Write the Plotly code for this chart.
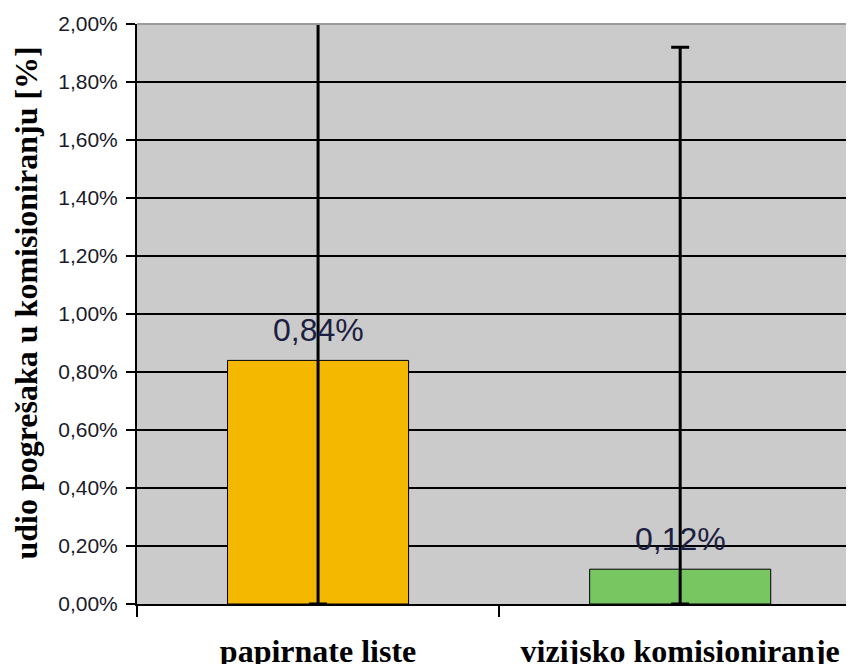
import plotly.graph_objects as go

categories = ["papirnate liste", "vizijsko komisioniranje"]
category_labels = ["<b>papirnate liste</b>", "<b>vizijsko komisioniranje</b>"]
values = [0.84, 0.12]            # % errors
err_plus = [1.25, 1.80]          # upper error (%)
err_minus = [0.84, 0.12]         # lower error (%)
labels = ["0,84%", "0,12%"]
colors = ["#F4B800", "#78C662"]
y_ticks = [0.0, 0.2, 0.4, 0.6, 0.8, 1.0, 1.2, 1.4, 1.6, 1.8, 2.0]
y_tick_labels = ["0,00%", "0,20%", "0,40%", "0,60%", "0,80%", "1,00%",
                 "1,20%", "1,40%", "1,60%", "1,80%", "2,00%"]
y_title = "<b>udio pogrešaka u komisioniranju [%]</b>"

# page body has an 8px default margin; compensate so the plot lands where the reference has it
W, H = 846, 656
ML, MT, MB = 129, 16, 60
PW = W - ML

fig = go.Figure()
fig.add_trace(go.Bar(
    x=categories, y=values, width=0.5,
    marker=dict(color=colors, line=dict(color="black", width=1)),
    cliponaxis=True,
    error_y=dict(type="data", symmetric=False, array=err_plus, arrayminus=err_minus,
                 color="black", thickness=3, width=9),
))

for c, v, t in zip(categories, values, labels):
    fig.add_annotation(x=c, y=v, text=t, showarrow=False, yanchor="bottom", yshift=10,
                       font=dict(family="Liberation Sans, Arial", size=32, color="#1c2040"))

fig.update_layout(
    width=W, height=H,
    margin=dict(l=ML, r=0, t=MT, b=MB, autoexpand=False),
    paper_bgcolor="white", plot_bgcolor="#CBCBCB",
    showlegend=False,
    font=dict(family="Liberation Sans, Arial", color="black"),
)
fig.update_yaxes(
    range=[0, 2.0], tickvals=y_ticks, ticktext=y_tick_labels, automargin=False,
    tickfont=dict(family="Liberation Sans, Arial", size=21, color="#1a1a2a"),
    showgrid=True, gridcolor="black", gridwidth=1.5,
    showline=True, linecolor="black", linewidth=2,
    ticks="outside", ticklen=9, tickcolor="black", tickwidth=2,
    zeroline=False, ticklabelstandoff=4,
)
fig.update_xaxes(
    range=[-0.5, 1.48], automargin=False,
    tickvals=categories, ticktext=category_labels,
    showline=True, linecolor="black", linewidth=2,
    ticks="outside", tickson="boundaries", ticklen=11, tickcolor="black", tickwidth=2,
    tickfont=dict(family="Liberation Serif, Times New Roman", size=32, color="black"),
    ticklabelstandoff=18,
)
fig.add_annotation(xref="paper", yref="paper", x=(18 - ML) / PW, y=0.518,
                   text=y_title, textangle=-90, showarrow=False,
                   xanchor="center", yanchor="middle",
                   font=dict(family="Liberation Serif, Times New Roman", size=32, color="black"))
fig.add_shape(type="line", xref="paper", yref="paper", x0=0, x1=1, y0=1, y1=1,
              line=dict(color="#9a9a9a", width=2), layer="above")

fig.write_html("out.html")
